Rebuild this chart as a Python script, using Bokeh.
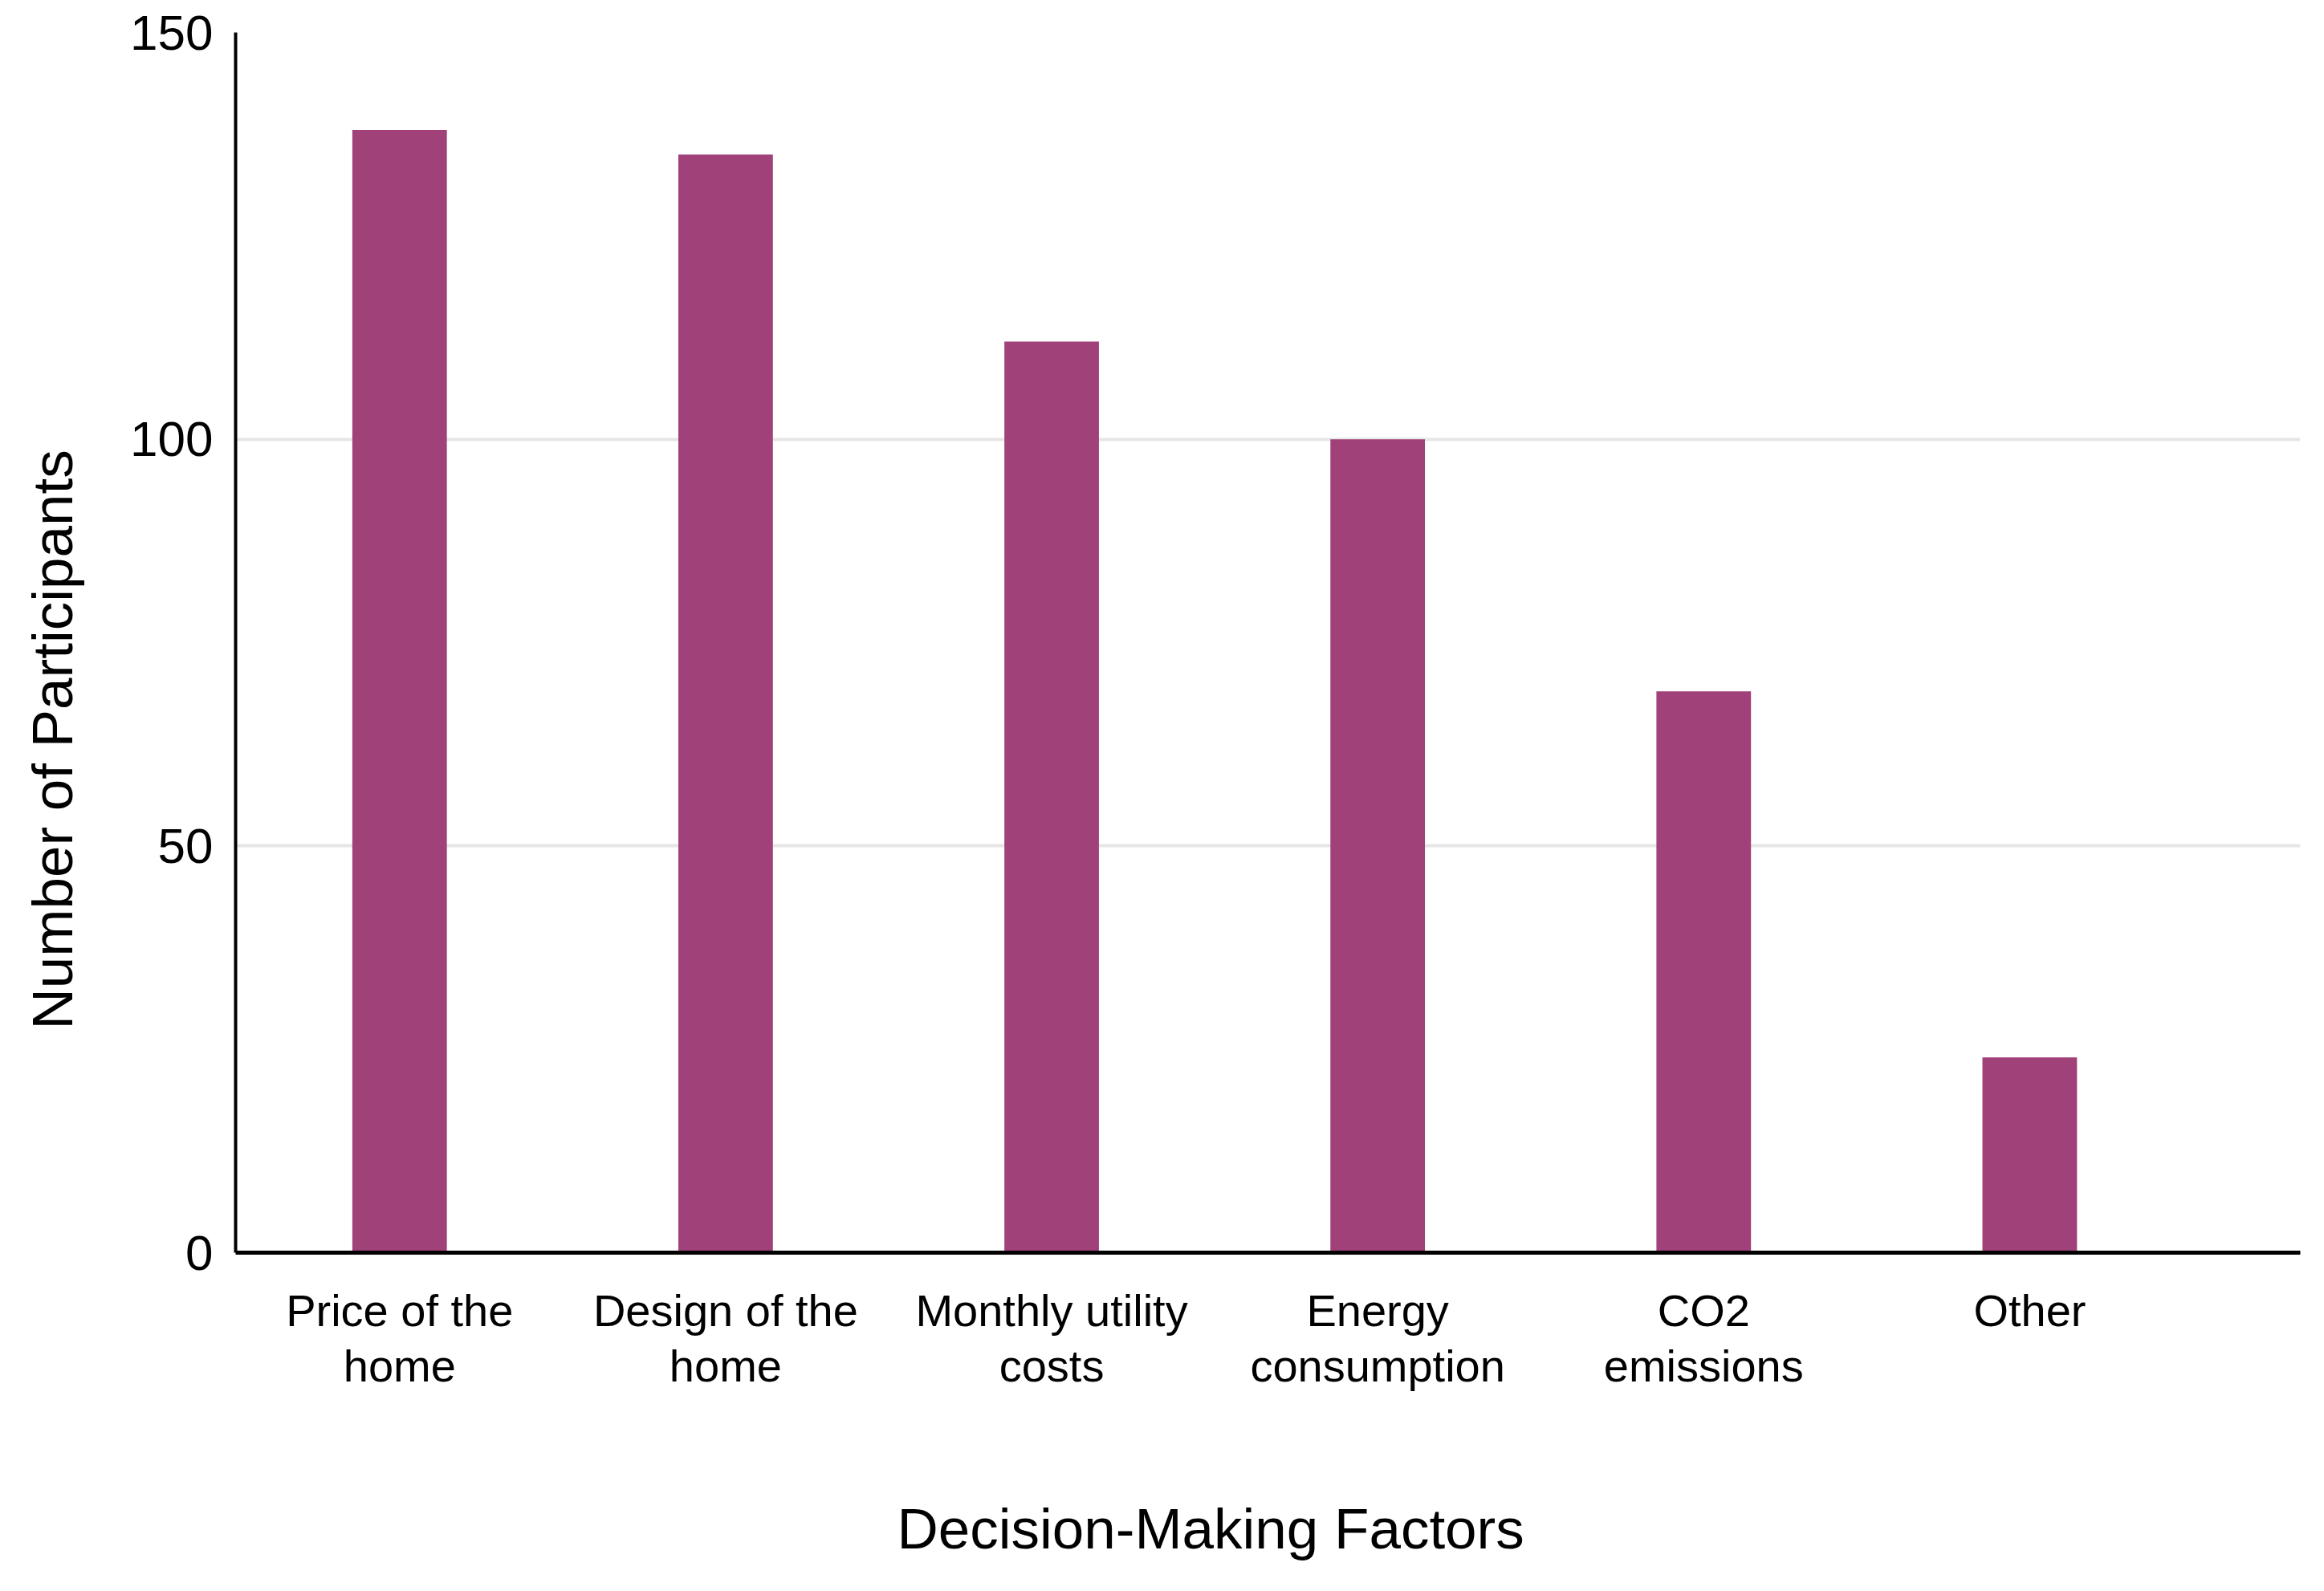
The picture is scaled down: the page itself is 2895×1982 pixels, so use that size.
from bokeh.plotting import figure
from bokeh.models import Range1d, FixedTicker, ColumnDataSource, Title
from bokeh.embed import file_html
from bokeh.resources import INLINE

factors = ["Price of the home", "Design of the home", "Monthly utility costs",
           "Energy consumption", "CO2 emissions", "Other"]
tick_labels = ["Price of the\nhome", "Design of the\nhome", "Monthly utility\ncosts",
               "Energy\nconsumption", "CO2\nemissions", "Other"]
participants = [138, 135, 112, 100, 69, 24]
y_ticks = [0, 50, 100, 150]
x_title = "Decision-Making Factors"
y_title = "Number of Participants"

positions = list(range(len(factors)))
src = ColumnDataSource(dict(x=positions, top=participants, name=factors))

FONT = "Liberation Sans"

p = figure(width=2880, height=1962,
           x_range=Range1d(-0.503, 5.83), y_range=Range1d(0, 150),
           output_backend="svg", toolbar_location=None,
           min_border_left=293, min_border_right=15,
           min_border_top=40, min_border_bottom=402)
p.outline_line_color = None
p.background_fill_color = "white"

p.vbar(x="x", top="top", bottom=0, width=0.29, source=src,
       fill_color="#a0417a", line_color=None)

p.xgrid.grid_line_color = None
p.ygrid.ticker = FixedTicker(ticks=[50, 100, 150])
p.ygrid.grid_line_color = "#e6e6e6"
p.ygrid.grid_line_width = 4

ya = p.yaxis[0]
ya.ticker = FixedTicker(ticks=y_ticks)
ya.major_tick_line_color = None
ya.minor_tick_line_color = None
ya.major_tick_out = 0
ya.major_tick_in = 0
ya.minor_tick_out = 0
ya.axis_line_color = "black"
ya.axis_line_width = 4
ya.major_label_text_font = FONT
ya.major_label_text_font_size = "62px"
ya.major_label_text_color = "black"
ya.major_label_standoff = 28
# blank spacer label to set the gap before the axis title
ya.axis_label = " "
ya.axis_label_text_font_size = "1px"
ya.axis_label_standoff = 40

xa = p.xaxis[0]
xa.ticker = FixedTicker(ticks=positions)
xa.major_label_overrides = {i: t for i, t in zip(positions, tick_labels)}
xa.major_tick_line_color = None
xa.minor_tick_line_color = None
xa.major_tick_out = 0
xa.major_tick_in = 0
xa.minor_tick_out = 0
xa.axis_line_color = "black"
xa.axis_line_width = 5
xa.major_label_text_font = FONT
xa.major_label_text_font_size = "56px"
xa.major_label_text_line_height = 1.1
xa.major_label_text_color = "black"
xa.major_label_standoff = 40
xa.axis_label = " "
xa.axis_label_text_font_size = "1px"
xa.axis_label_standoff = 113

yt = Title(text=y_title, align="left", offset=278, standoff=20,
           text_font=FONT, text_font_size="71px", text_font_style="normal",
           text_color="black")
p.add_layout(yt, "left")

xt = Title(text=x_title, align="left", offset=824, standoff=20,
           text_font=FONT, text_font_size="71px", text_font_style="normal",
           text_color="black")
p.add_layout(xt, "below")

open("out.html", "w").write(file_html(p, INLINE))
